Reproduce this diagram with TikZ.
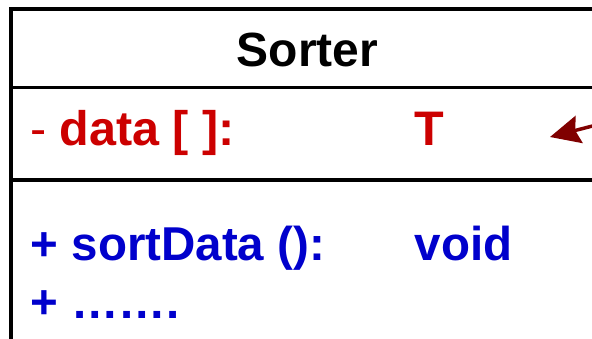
\documentclass[tikz,border=0pt]{standalone}
\usepackage{fontspec}
\setmainfont{Liberation Sans}
\usetikzlibrary{arrows.meta}
\definecolor{attrred}{RGB}{204,0,0}
\definecolor{opblue}{RGB}{0,0,204}
\definecolor{pointerred}{RGB}{128,0,0}
\begin{document}
\begin{tikzpicture}[x=1pt,y=-1pt,
  frameline/.style={line width=4pt,black},
  sepline/.style={line width=3.5pt,black},
  titletext/.style={anchor=base,inner sep=0pt,font=\fontsize{48}{58}\selectfont\bfseries},
  attrtext/.style={anchor=base west,inner sep=0pt,text=attrred,font=\fontsize{48.5}{58}\selectfont\bfseries},
  optext/.style={anchor=base west,inner sep=0pt,text=opblue,font=\fontsize{47.5}{57}\selectfont\bfseries},
  pointer/.style={line width=3.5pt,pointerred,-{Stealth[length=30pt,width=28pt,inset=4pt]}}]
\useasboundingbox (0,0) rectangle (592,338);
\clip (0,0) rectangle (592,338);
% class box: name, attribute and operation compartments
\draw[frameline] (11,9) rectangle (640,380);
\draw[sepline] (11,87.5) -- (640,87.5);
\draw[sepline] (11,180) -- (640,180);
% class name
\node[titletext] (name) at (307.5,66.5) {Sorter};
% attribute
\node[attrtext] (attr) at (30,145.5) {{\mdseries -} data [ ]:};
\node[attrtext] (attrtype) at (414,145.5) {T};
% operations
\node[optext] (op1) at (30.5,260) {+ sortData ():};
\node[optext] (op1type) at (414.5,260) {void};
\node[optext] (op2) at (30,318) {+ …….};
% pointer to the attribute
\coordinate (ptrstart) at (604,123);
\coordinate (ptrend) at (550,137);
\draw[pointer] (ptrstart) -- (ptrend);
\end{tikzpicture}
\end{document}
